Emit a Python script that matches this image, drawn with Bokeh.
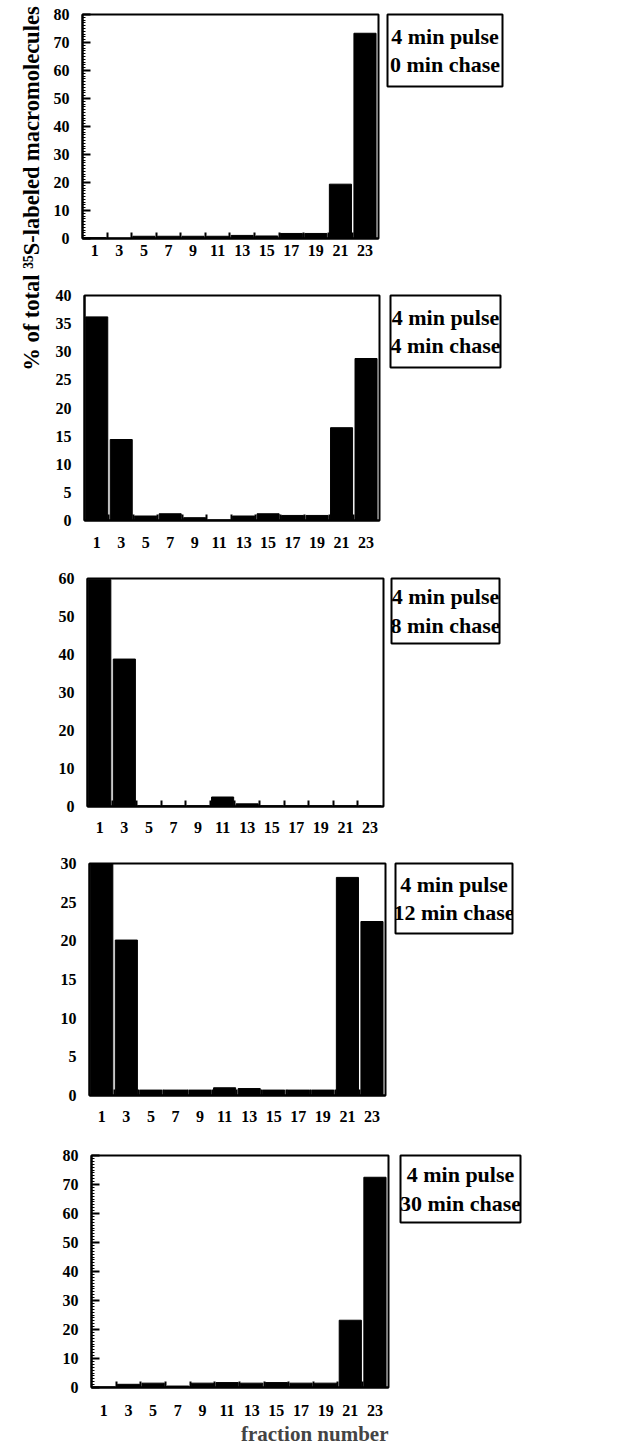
import math
from bokeh.plotting import figure
from bokeh.models import Range1d, FixedTicker, SingleIntervalTicker, Label, Title
from bokeh.layouts import row, column
from bokeh.embed import file_html
from bokeh.resources import INLINE

FONT = "Liberation Serif"

# ---- data ----
fractions = [1, 3, 5, 7, 9, 11, 13, 15, 17, 19, 21, 23]
boundaries = [2, 4, 6, 8, 10, 12, 14, 16, 18, 20, 22]
chase_0 = [0.3, 0.1, 0.8, 0.8, 0.8, 0.8, 1.1, 0.9, 1.8, 1.8, 19.4, 73.3]
chase_4 = [36.2, 14.4, 0.8, 1.2, 0.5, 0.1, 0.8, 1.2, 0.9, 0.9, 16.5, 28.8]
chase_8 = [59.7, 38.8, 0.2, 0.2, 0.2, 2.5, 0.7, 0.2, 0.2, 0.2, 0.2, 0.2]
chase_12 = [30.0, 20.1, 0.7, 0.7, 0.7, 1.0, 0.9, 0.7, 0.7, 0.7, 28.2, 22.5]
chase_30 = [0.2, 1.1, 1.5, 0.5, 1.5, 1.7, 1.5, 1.7, 1.5, 1.5, 23.2, 72.5]
series = [chase_0, chase_4, chase_8, chase_12, chase_30]
legend_texts = ["4 min pulse\n0 min chase", "4 min pulse\n4 min chase",
                "4 min pulse\n8 min chase", "4 min pulse\n12 min chase",
                "4 min pulse\n30 min chase"]
y_max = [80, 40, 60, 30, 80]
y_step = [10, 5, 10, 5, 10]
y_minor = [True, False, False, False, True]
y_title = "% of total \u00b3\u2075S-labeled macromolecules"
x_title = "fraction number"

# ---- layout (page pixels, page origin at 0,0) ----
X0 = 46  # left of panel figures (= width of title strip)
frames = [  # left, right, top, bottom, fig_top, fig_bottom
    (82, 378, 14, 238, 0, 270),
    (84, 379, 295, 520, 270, 553),
    (87, 383, 578, 806, 553, 838),
    (89, 385, 863, 1095, 838, 1125),
    (91, 388, 1155, 1387, 1125, 1452),
]
boxes = [  # left, right, top, bottom
    (387, 502, 10, 82),
    (390, 500, 295, 367),
    (391, 499, 575, 640),
    (395, 512, 861, 931),
    (400, 520, 1155, 1222),
]
x_standoff = [6, 16, 15, 15, 17]

rows = []
for i, vals in enumerate(series):
    L, R, T, B, FT, FB = frames[i]
    p = figure(frame_width=R - L, frame_height=B - T,
               min_border_left=L - X0, min_border_right=3,
               min_border_top=T - FT, min_border_bottom=FB - B,
               x_range=Range1d(0, 24.1), y_range=Range1d(0, y_max[i]),
               output_backend="svg", toolbar_location=None)
    p.vbar(x=fractions, top=vals, width=1.8, color="black")
    p.grid.visible = False
    p.outline_line_color = "black"
    p.outline_line_width = 2

    xa = p.xaxis[0]
    xa.ticker = FixedTicker(ticks=fractions, minor_ticks=boundaries)
    xa.major_tick_in = 0
    xa.major_tick_out = 0
    xa.minor_tick_in = 6
    xa.minor_tick_out = 0
    xa.minor_tick_line_width = 2
    xa.axis_line_width = 2
    xa.major_label_standoff = x_standoff[i]
    xa.major_label_text_font = FONT
    xa.major_label_text_font_style = "bold"
    xa.major_label_text_font_size = "16px"
    xa.major_label_text_color = "black"

    ya = p.yaxis[0]
    ya.ticker = SingleIntervalTicker(interval=y_step[i], num_minor_ticks=10 if y_minor[i] else 0)
    ya.major_tick_out = 0
    ya.major_tick_in = 8 if y_minor[i] else 0
    ya.minor_tick_out = 0
    ya.minor_tick_in = 3 if y_minor[i] else 0
    ya.major_tick_line_width = 2
    ya.axis_line_width = 2
    ya.major_label_standoff = 13
    ya.major_label_text_font = FONT
    ya.major_label_text_font_style = "bold"
    ya.major_label_text_font_size = "16px"
    ya.major_label_text_color = "black"

    if i == 4:
        t = Title(text=x_title, align="right", text_font=FONT, text_font_style="bold",
                  text_font_size="21px", standoff=2)
        p.add_layout(t, "below")

    bl, br, bt, bb = boxes[i]
    lf = figure(frame_width=br - bl, frame_height=bb - bt,
                min_border_left=bl - (R + 3), min_border_right=2,
                min_border_top=bt - FT, min_border_bottom=FB - bb,
                x_range=Range1d(0, 1), y_range=Range1d(0, 1),
                x_axis_location=None, y_axis_location=None,
                output_backend="svg", toolbar_location=None)
    lf.grid.visible = False
    lf.outline_line_color = "black"
    lf.outline_line_width = 2
    lf.add_layout(Label(x=0.5, y=0.5, text=legend_texts[i], text_align="center",
                        text_baseline="middle", text_font=FONT, text_font_style="bold",
                        text_font_size="22px", text_line_height=1.15, text_color="black"))
    rows.append(row(p, lf, spacing=0))

H = 1452
tf = figure(frame_width=X0, frame_height=H, min_border=0,
            x_range=Range1d(0, X0), y_range=Range1d(0, H),
            x_axis_location=None, y_axis_location=None,
            output_backend="svg", toolbar_location=None)
tf.grid.visible = False
tf.outline_line_color = None
tf.add_layout(Label(x=31, y=H - 188, angle=math.pi / 2, text=y_title,
                    text_align="center", text_baseline="middle", text_font=FONT,
                    text_font_style="bold", text_font_size="22.5px", text_color="black"))

layout = row(tf, column(*rows, spacing=0), spacing=0)
open("out.html", "w").write(file_html(layout, INLINE))
